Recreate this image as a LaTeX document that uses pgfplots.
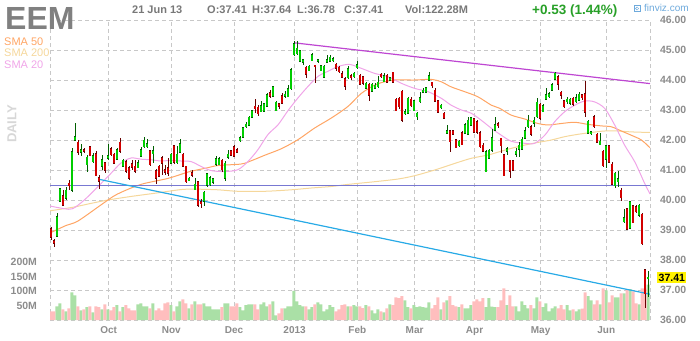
\documentclass[border=0pt]{standalone}
\usepackage{pgfplots}
\pgfplotsset{compat=1.18}
\usepackage{pgfplotstable}
\usepackage{fontspec}
\setmainfont{Liberation Sans}
\definecolor{upfill}{RGB}{0,205,0}
\definecolor{upline}{RGB}{0,95,0}
\definecolor{dnfill}{RGB}{210,0,0}
\definecolor{dnline}{RGB}{105,0,0}
\definecolor{volup}{RGB}{170,224,166}
\definecolor{voldn}{RGB}{255,190,190}
\definecolor{gridc}{RGB}{200,200,200}
\definecolor{labc}{RGB}{140,140,140}
\definecolor{headc}{RGB}{120,120,120}
\definecolor{smaA}{RGB}{240,165,232}
\definecolor{smaB}{RGB}{255,165,100}
\definecolor{smaC}{RGB}{245,215,155}
\definecolor{trendm}{RGB}{190,70,210}
\definecolor{trendb}{RGB}{40,170,230}
\definecolor{hlinec}{RGB}{120,120,210}
\definecolor{greenhead}{RGB}{40,160,40}
\definecolor{finvizc}{RGB}{110,170,220}
\definecolor{dailyc}{RGB}{215,215,215}

\pgfplotstableread{
i O H L C V
0 39.04 39.09 38.67 38.76 30
1 38.64 38.70 38.42 38.56 30
2 38.79 39.57 38.79 39.45 47
3 39.96 40.41 39.94 40.37 57
4 40.15 40.33 39.82 39.82 37
5 40.05 40.44 39.99 40.33 30
6 40.55 40.67 40.33 40.47 40
7 40.33 41.73 40.27 41.61 95
8 41.99 42.58 41.96 42.10 85
9 41.92 42.01 41.51 41.59 47
10 41.60 41.85 41.45 41.68 33
11 41.68 41.73 41.57 41.62 37
12 41.17 41.51 40.95 41.43 44
13 41.77 41.77 41.45 41.48 47
14 41.28 41.57 41.23 41.48 26
15 41.54 41.62 40.81 40.81 47
16 40.74 40.83 40.38 40.63 44
17 41.12 41.51 41.00 41.34 37
18 41.25 41.28 40.91 41.00 54
19 41.40 41.85 41.34 41.48 37
20 41.71 41.77 41.45 41.51 33
21 41.53 41.57 41.21 41.23 44
22 41.36 41.73 41.34 41.68 51
23 41.92 42.07 41.57 41.62 30
24 41.12 41.36 41.09 41.32 44
25 41.28 41.32 40.91 40.95 51
26 41.08 41.12 40.67 40.72 40
27 41.21 41.34 41.00 41.09 33
28 41.12 41.34 40.91 40.95 33
29 41.08 41.34 41.06 41.25 54
30 41.45 41.77 41.45 41.68 57
31 41.77 42.10 41.73 41.99 47
32 41.77 42.03 41.73 41.88 47
33 41.64 41.68 41.13 41.17 40
34 41.54 41.79 41.23 41.64 57
35 40.97 41.02 40.53 40.72 33
36 41.13 41.17 40.78 40.80 40
37 41.41 41.45 40.83 41.23 33
38 41.00 41.17 40.83 40.92 57
39 41.08 41.40 40.80 40.89 61
40 41.23 41.57 41.21 41.53 51
41 41.81 41.81 41.21 41.25 30
42 41.25 41.81 41.21 41.53 47
43 41.59 42.03 41.57 41.88 64
44 41.53 41.57 41.09 41.12 71
45 41.12 41.13 40.58 40.61 57
46 40.64 40.75 40.63 40.72 40
47 40.91 41.00 40.75 40.83 54
48 40.35 40.72 40.33 40.52 64
49 40.61 40.61 39.76 39.82 54
50 39.95 40.05 39.75 39.88 54
51 39.95 40.30 39.80 40.25 57
52 40.49 40.90 40.45 40.87 47
53 40.51 40.80 40.45 40.75 47
54 40.60 40.75 40.55 40.71 37
55 41.20 41.45 41.12 41.38 37
56 41.18 41.42 41.15 41.38 37
57 41.33 41.38 40.95 41.01 44
58 40.73 41.29 40.62 41.23 57
59 41.42 41.68 41.38 41.53 57
60 41.64 41.68 41.45 41.49 47
61 41.78 41.84 41.42 41.45 47
62 41.68 41.72 41.56 41.60 57
63 41.98 42.12 41.93 42.07 44
64 42.09 42.42 42.07 42.40 33
65 42.44 42.60 42.40 42.53 51
66 42.49 42.79 42.45 42.75 54
67 42.75 43.01 42.73 42.98 54
68 43.12 43.38 42.90 43.04 54
69 43.09 43.18 42.79 42.87 37
70 42.95 43.29 42.93 43.14 54
71 42.95 43.23 42.93 43.21 61
72 43.12 43.57 43.09 43.51 47
73 43.57 43.68 43.40 43.45 54
74 43.45 43.79 43.42 43.77 64
75 42.98 43.29 42.95 43.25 16
76 43.21 43.23 43.04 43.12 23
77 43.48 43.57 43.20 43.23 40
78 43.45 43.64 43.40 43.53 40
79 43.45 43.84 43.42 43.71 47
80 43.71 44.40 43.68 44.34 47
81 44.84 45.31 44.79 45.20 100
82 44.88 45.31 44.82 45.05 64
83 44.62 45.01 44.60 44.98 51
84 44.60 44.71 44.49 44.67 47
85 44.42 44.45 44.07 44.20 47
86 44.31 44.49 44.29 44.45 37
87 44.64 44.90 44.62 44.84 44
88 44.49 44.51 43.90 44.44 54
89 44.62 44.71 44.57 44.68 61
90 44.31 44.51 44.29 44.48 54
91 44.09 44.49 44.07 44.45 30
92 44.60 44.82 44.57 44.68 37
93 44.62 44.82 44.60 44.75 51
94 44.64 44.75 44.60 44.71 44
95 44.53 44.57 44.31 44.40 30
96 44.42 44.45 44.23 44.27 37
97 44.20 44.31 44.07 44.09 51
98 44.04 44.09 43.68 43.79 54
99 44.07 44.45 44.04 44.37 47
100 44.14 44.20 44.00 44.07 47
101 44.11 44.25 44.05 44.22 51
102 44.41 44.63 44.38 44.50 47
103 44.16 44.19 43.83 43.85 47
104 44.11 44.14 43.85 43.89 41
105 43.72 43.92 43.70 43.89 51
106 43.85 43.89 43.30 43.50 47
107 43.63 43.89 43.61 43.85 33
108 43.72 43.89 43.70 43.83 23
109 43.77 44.14 43.75 43.92 37
110 44.19 44.22 44.05 44.11 30
111 43.94 44.22 43.92 44.14 26
112 44.16 44.20 43.90 43.92 40
113 43.99 44.10 43.95 44.07 54
114 44.25 44.27 43.90 43.92 51
115 43.36 43.39 42.96 42.98 78
116 43.39 43.42 43.05 43.11 75
117 43.63 43.66 42.61 42.66 82
118 42.87 43.05 42.83 42.94 68
119 42.89 43.44 42.85 43.39 44
120 43.36 43.44 43.11 43.14 40
121 42.98 43.33 42.96 43.30 51
122 42.77 42.94 42.66 42.89 44
123 43.27 43.61 43.25 43.41 47
124 43.59 43.72 43.55 43.66 44
125 43.59 43.77 43.55 43.74 43
126 44.00 44.25 43.96 44.14 61
127 43.92 43.94 43.74 43.81 40
128 43.66 43.72 43.27 43.30 51
129 43.30 43.33 42.89 42.92 78
130 43.07 43.20 43.02 43.16 37
131 42.89 42.92 42.70 42.72 61
132 42.22 42.50 42.19 42.30 68
133 42.30 42.33 41.61 41.94 82
134 42.30 42.33 42.16 42.19 51
135 42.00 42.03 41.72 41.74 47
136 41.81 42.00 41.78 41.96 44
137 42.25 42.30 41.83 41.85 54
138 42.22 42.55 42.19 42.50 40
139 42.19 42.77 42.16 42.66 40
140 42.50 42.77 42.47 42.74 51
141 42.70 42.74 42.22 42.25 64
142 42.61 42.65 42.20 42.25 71
143 42.25 42.30 41.74 41.77 64
144 41.83 41.89 41.61 41.63 75
145 40.94 41.66 40.92 41.61 44
146 41.39 41.70 41.36 41.66 75
147 41.66 42.36 41.61 42.07 46
148 42.33 42.77 42.30 42.50 44
149 42.55 42.61 42.41 42.47 44
150 42.05 42.07 41.55 41.81 68
151 41.50 41.52 40.80 40.81 109
152 41.63 41.77 41.50 41.70 51
153 41.33 41.35 40.74 40.96 85
154 41.30 41.33 40.96 41.00 47
155 41.52 41.72 41.44 41.63 47
156 41.70 41.94 41.44 41.83 30
157 41.70 42.11 41.66 42.03 64
158 42.05 42.44 42.03 42.30 51
159 42.44 42.83 42.41 42.66 40
160 42.44 42.50 42.14 42.19 51
161 42.55 42.77 42.44 42.66 40
162 42.77 43.39 42.72 43.25 78
163 43.19 43.22 42.66 42.72 64
164 42.94 43.19 42.92 43.14 44
165 43.35 43.74 43.33 43.50 57
166 43.44 43.61 43.41 43.55 30
167 43.66 43.89 43.63 43.85 40
168 44.03 44.27 44.00 44.22 47
169 44.11 44.16 43.66 43.85 40
170 43.59 43.63 43.36 43.50 51
171 43.30 43.33 43.07 43.11 37
172 43.27 43.44 43.19 43.36 51
173 43.22 43.41 43.16 43.36 33
174 43.39 43.44 43.14 43.19 37
175 43.27 43.52 43.25 43.41 30
176 43.33 43.59 43.30 43.52 37
177 43.50 43.55 43.35 43.41 39
178 43.55 43.96 42.77 42.92 95
179 42.22 42.66 42.19 42.63 82
180 42.22 42.30 42.16 42.27 68
181 42.77 42.85 42.41 42.44 54
182 42.19 42.22 41.89 41.92 68
183 41.85 42.22 41.83 41.96 54
184 41.63 41.66 41.11 41.14 109
185 41.36 41.83 41.07 41.81 102
186 41.81 41.85 41.22 41.25 61
187 41.19 41.25 40.50 40.52 85
188 40.47 40.94 40.39 40.89 78
189 40.61 40.96 40.44 40.70 78
190 40.33 40.39 39.97 40.07 92
191 39.27 39.70 39.22 39.41 92
192 39.70 39.72 39.00 39.03 106
193 39.05 39.96 39.03 39.94 106
194 39.81 39.83 39.22 39.25 99
195 39.78 39.83 39.55 39.61 57
196 39.50 39.85 39.44 39.83 54
197 39.52 39.55 38.50 38.55 109
198 37.67 37.70 36.40 36.88 108
199 37.40 37.64 36.78 37.41 122.28
}\candles

\pgfplotsset{
  base/.style={scale only axis, width=600pt, height=300pt,
    at={(50pt,20pt)}, anchor=south west,
    xmin=-0.33, xmax=199.67,
    axis line style={draw=none}, major tick length=0pt,
    /pgf/number format/assume math mode=true},
}

\begin{document}
\begin{tikzpicture}
\useasboundingbox (0,0) rectangle (700pt,340pt);

% grid and labels
\begin{axis}[base, ymin=36, ymax=46,
  ytick={36,37,...,46}, yticklabel pos=right,
  yticklabel style={anchor=west, xshift=6.5pt, font=\fontsize{10.5}{12}\selectfont\bfseries, text=labc,
    /pgf/number format/.cd, fixed, fixed zerofill, precision=2},
  xtick={19.2,40.1,61,81.2,102.1,121.2,141.2,163.2,185.1},
  xticklabels={Oct,Nov,Dec,2013,Feb,Mar,Apr,May,Jun},
  xticklabel style={yshift=-3pt, font=\fontsize{10}{12}\selectfont\bfseries, text=labc},
  extra x ticks={-0.33,199.67}, extra x tick labels={},
  grid=major, major grid style={draw=gridc, line width=0.8pt, dash pattern=on 4pt off 3pt}]
\addplot[draw=none] coordinates {(0,40)};
\end{axis}

% volume
\begin{axis}[base, ymin=0, ymax=1034,
  ytick={50,100,150,200}, yticklabels={50M,100M,150M,200M},
  yticklabel style={anchor=east, xshift=-9.5pt, font=\fontsize{10.5}{12}\selectfont\bfseries, text=labc},
  xtick=\empty, ybar, bar width=1]
\addplot[fill=volup, draw=none, bar shift=0pt] table[x=i, y expr={\thisrow{C}>=\thisrow{O} ? \thisrow{V} : nan}] {\candles};
\addplot[fill=voldn, draw=none, bar shift=0pt] table[x=i, y expr={\thisrow{C}>=\thisrow{O} ? nan : \thisrow{V}}] {\candles};
\end{axis}

% price plots
\begin{axis}[base, ymin=36, ymax=46, xtick=\empty, ytick=\empty]
% SMA 200
\addplot[smaC, line width=1pt, smooth] coordinates {(-0.33,39.64) (7.4,39.76) (13,39.88) (19,40.00) (26.8,40.12) (35,40.23) (43.6,40.35) (49,40.36) (55.7,40.34) (62.3,40.29) (71.2,40.29) (80.1,40.34) (86.8,40.40) (93.4,40.45) (99,40.52) (107.9,40.61) (115.7,40.70) (121.2,40.81) (127.9,41.00) (134.6,41.22) (140.1,41.39) (145.7,41.50) (149.5,41.61) (153.4,41.72) (157.9,41.83) (162.3,41.92) (166.8,42.00) (171.2,42.11) (175.7,42.19) (180.1,42.25) (184.6,42.30) (189,42.30) (193.4,42.27) (199.67,42.25)};
% SMA 50
\addplot[smaB, line width=1pt, smooth] coordinates {(-0.33,38.90) (5,39.15) (9,39.30) (17,39.86) (22,40.19) (30,40.52) (39,40.72) (46,40.94) (52,41.07) (55.7,41.15) (63.4,41.20) (66.8,41.31) (71.2,41.49) (76.8,41.71) (82.3,42.01) (87.9,42.40) (93.4,42.73) (99,43.12) (103.4,43.55) (107.9,43.83) (111.2,43.94) (114.6,44.00) (121.2,44.00) (126.8,44.02) (130.1,43.94) (133.4,43.77) (137.9,43.61) (142.3,43.44) (146.8,43.16) (149.5,43.06) (153.4,42.83) (157.9,42.70) (162.3,42.55) (165.7,42.50) (170.1,42.55) (174.6,42.59) (179,42.52) (183.4,42.47) (186.8,42.44) (190.1,42.30) (193.4,42.16) (196.8,42.00) (199.67,41.74)};
% SMA 20
\addplot[smaA, line width=1pt, smooth] coordinates {(-0.33,39.80) (4.4,39.71) (7.2,39.71) (11,39.99) (15.6,40.44) (20,40.89) (23.3,41.23) (26.7,41.40) (30,41.36) (33.3,41.34) (36.7,41.30) (40,41.32) (43.3,41.30) (46.7,41.28) (50,41.12) (53.4,40.98) (57.9,40.95) (62.3,41.01) (65.7,41.29) (69,41.68) (72.3,42.18) (75.7,42.51) (79,42.98) (82.3,43.40) (85.7,43.79) (89,44.12) (92.3,44.29) (95.7,44.45) (99.5,44.52) (103.4,44.39) (107.9,44.22) (112.3,44.11) (116.8,43.89) (121.2,43.72) (125.7,43.61) (130.1,43.39) (133.4,43.16) (136.8,43.00) (140.1,42.89) (143.4,42.66) (146.8,42.39) (149.5,42.20) (153.4,41.96) (157.9,41.89) (161.2,41.89) (164.6,42.16) (167.9,42.61) (171.2,42.94) (174.6,43.16) (177.9,43.30) (181.2,43.27) (184.6,43.05) (187.9,42.50) (191.2,41.83) (194.6,41.27) (197.9,40.55) (199.67,40.20)};
% lines
\addplot[hlinec, line width=1pt] coordinates {(-0.33,40.48) (199.67,40.48)};
\addplot[trendm, line width=1.2pt] coordinates {(81,45.24) (199.67,43.88)};
\addplot[trendb, line width=1.2pt] coordinates {(16,40.69) (199.67,36.86)};
% wicks
\addplot[draw=none, error bars/.cd, y dir=both, y explicit, error mark=none,
  error bar style={solid, draw=upline, line width=0.9pt}]
  table[x=i, y expr={\thisrow{C}>=\thisrow{O} ? (\thisrow{H}+\thisrow{L})/2 : nan}, y error expr={(\thisrow{H}-\thisrow{L})/2}] {\candles};
\addplot[draw=none, error bars/.cd, y dir=both, y explicit, error mark=none,
  error bar style={solid, draw=dnline, line width=0.9pt}]
  table[x=i, y expr={\thisrow{C}>=\thisrow{O} ? nan : (\thisrow{H}+\thisrow{L})/2}, y error expr={(\thisrow{H}-\thisrow{L})/2}] {\candles};
% bodies outline
\addplot[draw=none, error bars/.cd, y dir=both, y explicit, error mark=none,
  error bar style={solid, draw=upline, line width=2.6pt}]
  table[x=i, y expr={\thisrow{C}>=\thisrow{O} ? (\thisrow{O}+\thisrow{C})/2 : nan}, y error expr={max(abs(\thisrow{C}-\thisrow{O})/2,0.02)+0.017}] {\candles};
\addplot[draw=none, error bars/.cd, y dir=both, y explicit, error mark=none,
  error bar style={solid, draw=dnline, line width=2.6pt}]
  table[x=i, y expr={\thisrow{C}>=\thisrow{O} ? nan : (\thisrow{O}+\thisrow{C})/2}, y error expr={max(abs(\thisrow{C}-\thisrow{O})/2,0.02)+0.017}] {\candles};
% bodies fill
\addplot[draw=none, error bars/.cd, y dir=both, y explicit, error mark=none,
  error bar style={solid, draw=upfill, line width=1.4pt}]
  table[x=i, y expr={\thisrow{C}>=\thisrow{O} ? (\thisrow{O}+\thisrow{C})/2 : nan}, y error expr={max(abs(\thisrow{C}-\thisrow{O})/2,0.02)}] {\candles};
\addplot[draw=none, error bars/.cd, y dir=both, y explicit, error mark=none,
  error bar style={solid, draw=dnfill, line width=1.4pt}]
  table[x=i, y expr={\thisrow{C}>=\thisrow{O} ? nan : (\thisrow{O}+\thisrow{C})/2}, y error expr={max(abs(\thisrow{C}-\thisrow{O})/2,0.02)}] {\candles};
\end{axis}

% header and labels
\node[anchor=base west, inner sep=0pt, font=\fontsize{32}{32}\selectfont\bfseries, text={rgb,255:red,128;green,128;blue,128}] at (5pt,310pt) {EEM};
\node[anchor=base west, inner sep=0pt, font=\fontsize{11}{13}\selectfont\bfseries, text=headc] at (132pt,326pt) {21 Jun 13};
\node[anchor=base west, inner sep=0pt, font=\fontsize{11}{13}\selectfont\bfseries, text=headc] at (207pt,326pt) {O:37.41};
\node[anchor=base west, inner sep=0pt, font=\fontsize{11}{13}\selectfont\bfseries, text=headc] at (252pt,326pt) {H:37.64};
\node[anchor=base west, inner sep=0pt, font=\fontsize{11}{13}\selectfont\bfseries, text=headc] at (297pt,326pt) {L:36.78};
\node[anchor=base west, inner sep=0pt, font=\fontsize{11}{13}\selectfont\bfseries, text=headc] at (344pt,326pt) {C:37.41};
\node[anchor=base west, inner sep=0pt, font=\fontsize{11}{13}\selectfont\bfseries, text=headc] at (405pt,326pt) {Vol:122.28M};
\node[anchor=base west, inner sep=0pt, font=\fontsize{13.5}{15}\selectfont\bfseries, text=greenhead] at (532pt,325pt) {+0.53 (1.44\%)};
\draw[finvizc, line width=0.6pt] (634pt,328.5pt) rectangle (640pt,334.5pt);
\draw[finvizc, line width=0.5pt] (637pt,331.5pt) circle (1.6pt);
\node[anchor=base west, inner sep=0pt, font=\fontsize{10}{12}\selectfont, text=finvizc] at (644pt,328pt) {finviz.com};
\node[anchor=base west, inner sep=0pt, font=\fontsize{11}{13}\selectfont, text=smaB] at (4pt,294pt) {SMA 50};
\node[anchor=base west, inner sep=0pt, font=\fontsize{11}{13}\selectfont, text=smaC] at (4pt,283pt) {SMA 200};
\node[anchor=base west, inner sep=0pt, font=\fontsize{11}{13}\selectfont, text=smaA] at (4pt,271pt) {SMA 20};
\node[rotate=90, inner sep=0pt, font=\fontsize{13}{13}\selectfont\bfseries, text=dailyc] at (12pt,216pt) {DAILY};
\node[anchor=west, fill=yellow, inner sep=1.5pt, font=\fontsize{10.5}{12}\selectfont\bfseries, text=black] at (657pt,62.3pt) {37.41};
\end{tikzpicture}
\end{document}
